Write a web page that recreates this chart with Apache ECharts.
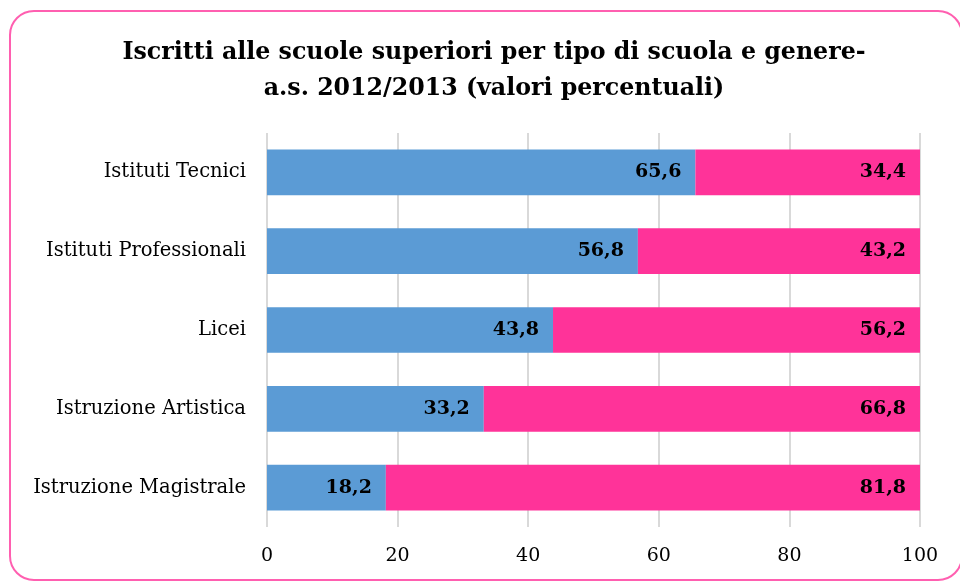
<!DOCTYPE html>
<html lang="it">
<head>
<meta charset="utf-8">
<title>Iscritti alle scuole superiori</title>
<script src="https://cdn.jsdelivr.net/npm/echarts@6/dist/echarts.min.js"></script>
<style>
  html, body { margin: 0; padding: 0; background: #fff; }
  #chart { width: 960px; height: 581px; }
</style>
</head>
<body>
<div id="chart"></div>
<script>
// dati (valori percentuali)
var categories = ['Istituti Tecnici', 'Istituti Professionali', 'Licei', 'Istruzione Artistica', 'Istruzione Magistrale'];
var maschi = [65.6, 56.8, 43.8, 33.2, 18.2];
var femmine = [34.4, 43.2, 56.2, 66.8, 81.8];
var xTicks = [0, 20, 40, 60, 80, 100];

var serif = 'DejaVu Serif';

function fmt(p) {
    return p.value.toFixed(1).replace('.', ',');
}

var labelStyle = {
    show: true,
    position: 'insideRight',
    distance: 14,
    formatter: fmt,
    color: '#000',
    fontFamily: serif,
    fontWeight: 'bold',
    fontSize: 19
};

var myChart = echarts.init(document.getElementById('chart'));
myChart.setOption({
    animation: false,
    title: {
        text: 'Iscritti alle scuole superiori per tipo di scuola e genere-\na.s. 2012/2013 (valori percentuali)',
        left: 489,
        top: 30,
        textAlign: 'center',
        textStyle: {
            fontFamily: serif,
            fontWeight: 'bold',
            fontSize: 23.7,
            lineHeight: 36,
            color: '#000'
        }
    },
    graphic: [{
        type: 'rect',
        shape: { x: 10, y: 11, width: 952, height: 569, r: 24 },
        style: { fill: 'none', stroke: '#ff5fb0', lineWidth: 2 },
        silent: true
    }],
    grid: { left: 267, right: 40, top: 133, bottom: 54 },
    xAxis: {
        type: 'value',
        min: 0,
        max: 100,
        interval: 20,
        axisLine: { show: false },
        axisTick: { show: false },
        splitLine: { lineStyle: { color: '#d9d9d9', width: 2 } },
        axisLabel: {
            margin: 20,
            fontFamily: serif,
            fontSize: 19,
            color: '#000',
            formatter: function (v) { return xTicks.indexOf(v) >= 0 ? String(v) : ''; }
        }
    },
    yAxis: {
        type: 'category',
        data: categories,
        inverse: true,
        axisLine: { show: false },
        axisTick: { show: false },
        axisLabel: {
            margin: 21,
            fontFamily: serif,
            fontSize: 19.5,
            color: '#000'
        }
    },
    series: [{
        name: 'Maschi',
        type: 'bar',
        stack: 'tot',
        barCategoryGap: '42%',
        data: maschi,
        itemStyle: { color: '#5b9bd5' },
        label: labelStyle
    }, {
        name: 'Femmine',
        type: 'bar',
        stack: 'tot',
        barCategoryGap: '42%',
        data: femmine,
        itemStyle: { color: '#ff3399' },
        label: labelStyle
    }]
});
</script>
</body>
</html>
